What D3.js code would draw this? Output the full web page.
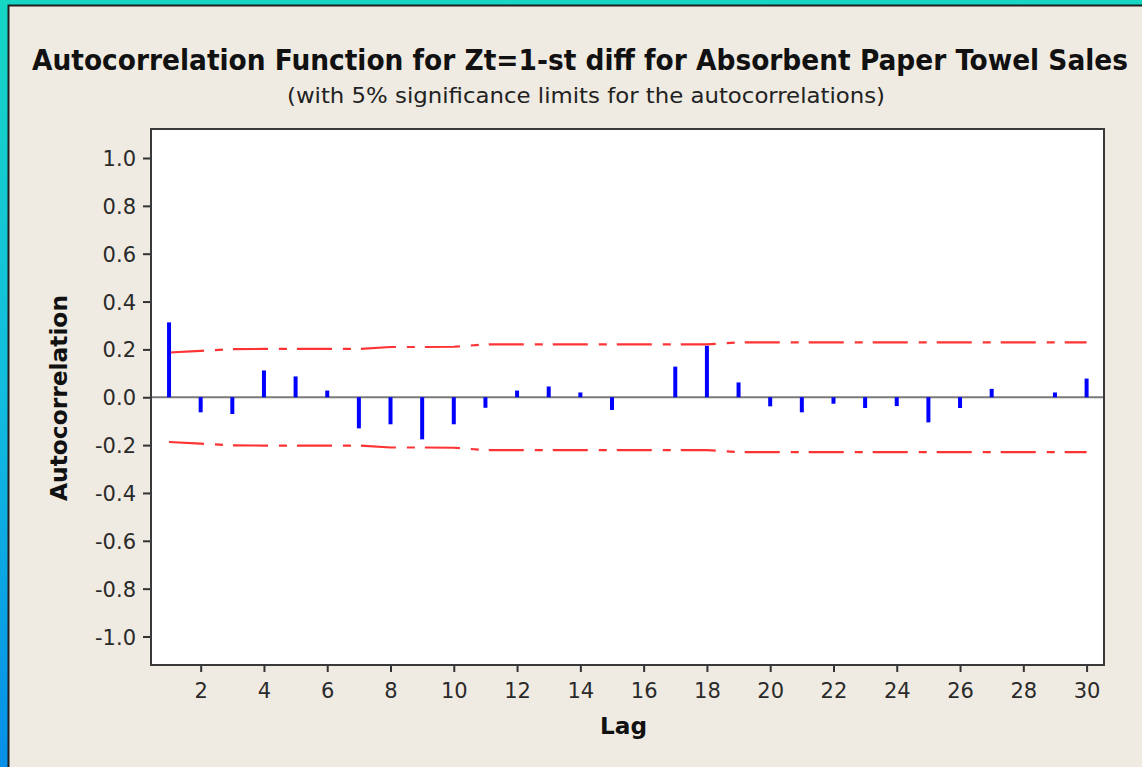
<!DOCTYPE html>
<html>
<head>
<meta charset="utf-8">
<script src="https://cdn.jsdelivr.net/npm/d3@7"></script>
<style>
  html, body { margin: 0; padding: 0; background: #efebe2; }
  svg { display: block; }
</style>
</head>
<body>
<svg id="chart" width="1142" height="767"></svg>
<script>
// ---- data ----
const lags = d3.range(1, 31);
const acf = [0.313, -0.063, -0.070, 0.112, 0.087, 0.028, -0.130, -0.113, -0.176, -0.113,
             -0.044, 0.028, 0.045, 0.020, -0.053, 0.000, 0.128, 0.215, 0.062, -0.038,
             -0.063, -0.027, -0.045, -0.037, -0.105, -0.045, 0.035, 0.000, 0.020, 0.078];
const upperLimit = [0.187, 0.194, 0.201, 0.202, 0.202, 0.202, 0.202, 0.210, 0.210, 0.211,
                    0.221, 0.221, 0.221, 0.221, 0.221, 0.221, 0.221, 0.221, 0.229, 0.229,
                    0.229, 0.229, 0.229, 0.229, 0.229, 0.229, 0.229, 0.229, 0.229, 0.229];
const lowerLimit = [-0.187, -0.194, -0.201, -0.202, -0.202, -0.202, -0.202, -0.210, -0.210, -0.211,
                    -0.221, -0.221, -0.221, -0.221, -0.221, -0.221, -0.221, -0.221, -0.229, -0.229,
                    -0.229, -0.229, -0.229, -0.229, -0.229, -0.229, -0.229, -0.229, -0.229, -0.229];
const xTicks = [2, 4, 6, 8, 10, 12, 14, 16, 18, 20, 22, 24, 26, 28, 30];
const yTicks = [-1.0, -0.8, -0.6, -0.4, -0.2, 0.0, 0.2, 0.4, 0.6, 0.8, 1.0];
const titleText = "Autocorrelation Function for Zt=1-st diff for Absorbent Paper Towel Sales";
const subtitleText = "(with 5% significance limits for the autocorrelations)";
const xLabel = "Lag";
const yLabel = "Autocorrelation";

// ---- layout ----
const W = 1142, H = 767;
const plot = { left: 151, right: 1104, top: 129, bottom: 665 };
const svg = d3.select("#chart");

const defs = svg.append("defs");
const grad = defs.append("linearGradient").attr("id", "bg").attr("x1", 0).attr("y1", 0).attr("x2", 0).attr("y2", 1);
grad.append("stop").attr("offset", "0%").attr("stop-color", "#16d6c4");
grad.append("stop").attr("offset", "50%").attr("stop-color", "#12bddf");
grad.append("stop").attr("offset", "100%").attr("stop-color", "#068fe8");

svg.append("rect").attr("width", W).attr("height", H).attr("fill", "url(#bg)");
svg.append("rect").attr("x", 7.5).attr("y", 4.5).attr("width", W + 10).attr("height", H + 10).attr("fill", "#1e1e1e");
svg.append("rect").attr("x", 9.5).attr("y", 6.5).attr("width", W + 10).attr("height", H + 10).attr("fill", "#efebe2");

const x = d3.scaleLinear().domain([0.43, 30.55]).range([plot.left, plot.right]);
const y = d3.scaleLinear().domain([-1, 1]).range([636.5, 158]);

// plot background
svg.append("rect")
  .attr("x", plot.left).attr("y", plot.top)
  .attr("width", plot.right - plot.left).attr("height", plot.bottom - plot.top)
  .attr("fill", "#ffffff");

// zero reference line
svg.append("line")
  .attr("x1", plot.left).attr("x2", plot.right)
  .attr("y1", y(0)).attr("y2", y(0))
  .attr("stroke", "#7a7a7a").attr("stroke-width", 2);

// significance limits
const limitLine = d3.line().x((d, i) => x(lags[i])).y(d => y(d));
[upperLimit, lowerLimit].forEach(arr => {
  svg.append("path")
    .attr("d", limitLine(arr))
    .attr("fill", "none")
    .attr("stroke", "#ff3333")
    .attr("stroke-width", 2.2)
    .attr("stroke-dasharray", "35,11,8,10");
});

// ACF bars
svg.append("g").selectAll("line").data(acf).join("line")
  .attr("x1", (d, i) => x(lags[i])).attr("x2", (d, i) => x(lags[i]))
  .attr("y1", y(0)).attr("y2", d => y(d))
  .attr("stroke", "#0000ff").attr("stroke-width", 4);

// axes
const tickFont = "'DejaVu Sans', Verdana, sans-serif";
const fmt = v => d3.format(".1f")(v).replace("\u2212", "-");

const xAxis = svg.append("g")
  .attr("transform", `translate(0,${plot.bottom})`)
  .call(d3.axisBottom(x).tickValues(xTicks).tickSize(7).tickPadding(6).tickFormat(d3.format("d")));
const yAxis = svg.append("g")
  .attr("transform", `translate(${plot.left},0)`)
  .call(d3.axisLeft(y).tickValues(yTicks).tickSize(8).tickPadding(7).tickFormat(fmt));

[xAxis, yAxis].forEach(g => {
  g.select(".domain").remove();
  g.selectAll(".tick line").attr("stroke", "#333333").attr("stroke-width", 2);
  g.selectAll(".tick text").attr("fill", "#2a2a2a").style("font-family", tickFont).style("font-size", "21px");
});
xAxis.selectAll(".tick text").attr("dy", "0.95em");
yAxis.selectAll(".tick text").attr("dy", "0.36em");

// plot frame
svg.append("rect")
  .attr("x", plot.left).attr("y", plot.top)
  .attr("width", plot.right - plot.left).attr("height", plot.bottom - plot.top)
  .attr("fill", "none").attr("stroke", "#3a3a3a").attr("stroke-width", 2);

// titles
const labelFont = "'DejaVu Sans Condensed', 'DejaVu Sans', Verdana, sans-serif";
svg.append("text")
  .attr("x", 580).attr("y", 70).attr("text-anchor", "middle")
  .attr("textLength", 1096).attr("lengthAdjust", "spacingAndGlyphs")
  .style("font-family", labelFont).style("font-weight", "bold").style("font-size", "29px")
  .attr("fill", "#111111").text(titleText);

svg.append("text")
  .attr("x", 586).attr("y", 103).attr("text-anchor", "middle")
  .attr("textLength", 598).attr("lengthAdjust", "spacingAndGlyphs")
  .style("font-family", labelFont).style("font-size", "21px")
  .attr("fill", "#222222").text(subtitleText);

svg.append("text")
  .attr("x", 623.5).attr("y", 734).attr("text-anchor", "middle")
  .attr("textLength", 47).attr("lengthAdjust", "spacingAndGlyphs")
  .style("font-family", labelFont).style("font-weight", "bold").style("font-size", "23px")
  .attr("fill", "#111111").text(xLabel);

svg.append("text")
  .attr("transform", "translate(67,398) rotate(-90)").attr("text-anchor", "middle")
  .attr("textLength", 206).attr("lengthAdjust", "spacingAndGlyphs")
  .style("font-family", labelFont).style("font-weight", "bold").style("font-size", "23px")
  .attr("fill", "#111111").text(yLabel);
</script>
</body>
</html>
